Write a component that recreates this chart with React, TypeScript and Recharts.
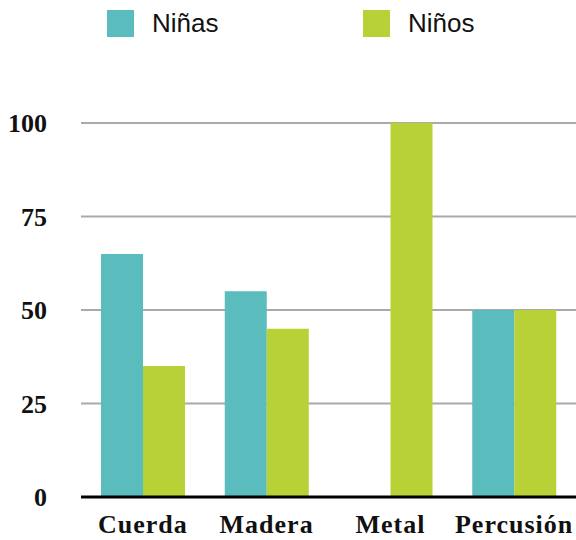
import { Bar, BarChart, CartesianGrid, Legend, XAxis, YAxis } from "recharts";

const categories = ["Cuerda", "Madera", "Metal", "Percusión"];
const ninas = [65, 55, 0, 50];
const ninos = [35, 45, 100, 50];
const yTicks = [0, 25, 50, 75, 100];

const teal = "#5bbcbd";
const lime = "#b8d136";
const serif = "'Liberation Serif', 'Times New Roman', serif";
const sans = "'Liberation Sans', Arial, sans-serif";

const data = categories.map((name, i) => ({ name, ninas: ninas[i], ninos: ninos[i] }));

function LegendBox() {
  const items = [
    { label: "Niñas", color: teal, left: 107 },
    { label: "Niños", color: lime, left: 363 },
  ];
  return (
    <div style={{ position: "relative", width: 576, height: 50 }}>
      {items.map((it) => (
        <div
          key={it.label}
          style={{ position: "absolute", left: it.left, top: 10, display: "flex", alignItems: "center" }}
        >
          <span style={{ width: 27, height: 27, background: it.color, display: "inline-block" }} />
          <span style={{ marginLeft: 18, fontFamily: sans, fontSize: 26, color: "#111", lineHeight: "27px" }}>
            {it.label}
          </span>
        </div>
      ))}
    </div>
  );
}

export default function App() {
  return (
    <div style={{ position: "absolute", left: 0, top: 0, width: 576, height: 540, background: "#fff" }}>
      <BarChart
        width={576}
        height={540}
        data={data}
        margin={{ top: 123, right: 0, left: 0, bottom: 3 }}
        barGap={0}
        barCategoryGap={20}
      >
        <Legend
          verticalAlign="top"
          content={<LegendBox />}
          wrapperStyle={{ position: "absolute", top: 0, left: 0, width: 576, height: 0 }}
        />
        <CartesianGrid stroke="#aaaaaa" strokeWidth={2} vertical={false} />
        <XAxis
          dataKey="name"
          height={40}
          tickLine={false}
          axisLine={{ stroke: "#000", strokeWidth: 3 }}
          tickMargin={12}
          tick={{ fill: "#111", fontFamily: serif, fontWeight: 700, fontSize: 26, letterSpacing: 1 }}
          interval={0}
        />
        <YAxis
          width={81}
          domain={[0, 100]}
          ticks={yTicks}
          tickLine={false}
          axisLine={false}
          tickMargin={28}
          tick={{ fill: "#111", fontFamily: serif, fontWeight: 700, fontSize: 26 }}
        />
        <Bar dataKey="ninas" name="Niñas" fill={teal} isAnimationActive={false} />
        <Bar dataKey="ninos" name="Niños" fill={lime} isAnimationActive={false} />
      </BarChart>
    </div>
  );
}
